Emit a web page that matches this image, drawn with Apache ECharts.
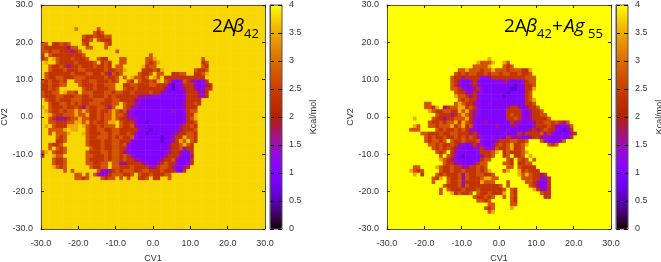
<!DOCTYPE html>
<html><head><meta charset="utf-8">
<style>html,body{margin:0;padding:0;background:#fff}#c{width:661px;height:262px;filter:blur(0.6px)}</style>
<script src="https://cdn.jsdelivr.net/npm/echarts@6/dist/echarts.min.js"></script>
</head><body><div id="c"></div>
<script>
// Free-energy levels; one character per 1x1 CV cell, top row = CV2 +30.
// Blocks of ten columns, rows shorter than 60 continue with background.
const levelKey = {a:0.6,b:1.0,c:1.3,d:1.6,e:2.0,f:2.35,g:2.75,h:3.1,i:3.5};
const backgroundLeft = 3.77, backgroundRight = 4;
const rowsLeft = [
"","","","","","",
".........h .....g",
".......... ....gfg",
".......... .gffgffgg",
".......... .ffg.gfff",
"gg.ffgfg.. .gf....gf",
"gffffffdgg ..gg...g",
"ggfggfffdf g......... g",
"f.gfffffff fg........ .........g",
"fg.igfffgf ffg..gff.. .gg.....gg i......... ...g",
".i..gffffg ffffg.fgf. .gg.....gf gi........ ...fg",
"..gffgfdff gfffgffgf. gg.....ifg g......... ...gf",
"..gfffgfff ggfffffgff ggi....fff gfi....... .gffg",
".gffffffgf ffggffgfdg fg....gffg .gg..ffgg. .ffgi",
".gffggfffg ggfffffgff g.g.iggfg. ig.fffffff ffff",
"gfgffgf..g gffggfffgf g..gf.gffg fi.gfbbcgf ddbcf",
"ffgffgg... gfffgffggg ..ffggfffg gfffbabcff fcbcdf",
"ffgfg..... .gffgfffgg ..gffgffff fffdbabcdf fdbcff",
"gffgg.iggf .gggfffggf ggffgffffg ffdcbbbbdf ffdcf",
"gfffggfffg gffgfffgfg ffffffdddc ccbbbbbbcf ffddf",
".gffgfffgg gfffgggffg gffffdcbbb bbbbbbbbcf fff",
"..gffggfgf gffgggfffg g.gffdcbbb bbbbbbbbdf fgf",
"i.gfffgffg fdgffggfdg ..gfdcbbbb bbbbbbbbdf ff",
".igffgfggi gigffgffgi gfgdcbbbbb bbbbbdbbcf gg",
"..igffgggi ggiffgfggi ggfdcbbbbb bbbbbbbbcf fi",
"..gfdddfgg iggffgfggi gffddcbbbb bbbbbbbbcf gi",
"..ggfffggi igifgffgii .gfffcbbab bbbbbbbbcf fg",
".i.gfffiii .igffgfggg .gffgdbbbb bbbbbbbdff gf",
"..ggggi.ii ..gffggffg gfffffcbba bbbbbbcdff fg",
"..g.gggi.. .igfffggfg gffgfcbbab bbbbbbdffg gf",
"....gfg... ..gffgggfg fgffgcbbbb bbabbdffig gf",
"....ffg... ..gfffgffg gfffcbbbbb bbabbdfig. gf",
"..gffg.... ..gfffgffg gfgcbbbbbb bbbbdffgig f",
"..g.gfg... ...gffgffg gffcbbbbbb bbbbdffgdf f",
"gi.gffg... ..gfffggfg gfdcbbbbbb bbbcdffdbb f",
"f..igg.... ..ggfffgfg gfgfcbbbbb bbbdfffcbb d",
"...gffg... ..gffffgfg gfgffdcbbb bbdffgcbbb f",
"...gffg... ..ggffgg.g gddffffdcb bdfgffdbbc f",
"...igfg... ...gffgg.g gfffgffffd dfggfdbbdf",
"......g.g. .....gdbdf gfgggffggf ffgfffcbf",
".........g g.g.gdbdfg ggffg.gffg fffgg",
".........g gfg...gfgg .g.g..ffg. ff..g",
"","","","","","","","","","","","",""
];
const rowsRight = [
"","","","","","","","","","","","","","",
".......... .......... .......i",
".......... .......... ....igggi. .ig",
".......... .......... ...ggggi.. .gfg",
".......... .........g gigggfggig ggfgggffi",
".......... ........gf gfggffgfgg fggffgffg",
".......... .......gff dffffccdff fffffffggg",
".......... .......gfd bbcfdbbbbc cddbbbdfgg",
".......... .......gfc bbdfcbbbbb bbbbabbffg",
".......... .......ggf cbbdfcbbbb bbbaabbffi",
".......... ........gf fdcfccbbbb bbabbbbfg",
".......... ........ig gfdfdbbbbb babbbbbfg",
".......... .........g fgffcbbbbb bbbbbbbfgi",
".......... gg......gi gffdcbbcbb bbbbbbbffg",
".......... ggfi.dfggi ifgfcbbbbb bbdffdbdff g",
".......... .igffggffi gifdcbbbbb bbffffcbdf fg",
".......... ...gfffdfg igfdcbbbbb bbfgffcbdf fgg",
".......i.. ..gffdffgg gifdbbbbbb bbffgfccdf fffg",
".......... .gffgfggif igfcbbdbbb bbbfddbbcd ffggfgfdg",
".......ig. .ggfgggifg ifgcbbbbbd bbbddbbbbd fffgfdbbdg",
"......ggg. ...gfgffgf gfdcbbbbbb bbcbbbbbdf dfgffcbabf",
".........g gfffgffggf ffdfdbbbbb bcbbbfdfff fgdfcbbbbd f",
".......... gfgffgffgf gfgfdcbbcb cbfdddbcdf fdccbbbbbf",
".......... gfggfg.gff gfffgcbbbd fffggffg.. .gdbbbdg",
".......... .ggfgffgfd cbcfdcbbcf gfgiffgi.. ...gfg",
".......... ..gfgfgfdc bbbcdfccdg ffgiffg...",
".......... ...gfg.fdb bbbbcfffgi .fgfffgi..",
".......... ....g.gfcb abbbbdffg. .fg.ffg.i",
".......... ....igfdcb bbbbbfgg.. ..gf.gfg.g",
".......... .....gffdc bbbcfgg... .ggf.ffgg.",
".......gg. ...igffgff ddffgfg... ..gg.gffff",
"......igfg ....gffgff gfffgfgi.. .gi..ifgff f",
".......i.f ...gfgfffg dgffggffg. .....igigf fdf",
".......... ..gfi.gffg dgfffgiigg ......gggf fdcf",
".......... ..g...gffg dffffiggg. ..g....ggf dbbf",
".......... .....gfffg dgffffffff g.g.....gf dbcf",
".......... ....g.gfff gfffgfffff fg.gf....i fdcf",
".......... ....g..ifg ffg.gffgff fi.gf..... .gff",
".......... .......... ...gffgfg. .g.gf..... ..ff",
".......... .......... ....ggfg.. ...gf.....",
".......... .......... .......gg. ...gg",
".......... .......... ......gfg. ...i",
".......... .......... .......gi",
"","","",""
];
const labelsLeft = [["A1",5.1,9.1],["A2",4.8,3.7],["A3",-0.5,-1.3],["A4",6.7,-12.6]];
const labelsRight = [["B5",3.75,8.8],["B4",0.5,6.2],["B3",-2.1,0.5],["B1",-4.8,-1.3],["B2",14.2,-5.1]];
const cvCategories = Array.from({length:60},(_,i)=>i);

function cells(rows,bg){
  const out=[];
  rows.forEach((raw,r)=>{
    const s=raw.replace(/ /g,'').padEnd(60,'.');
    for(let c=0;c<60;c++){
      const v=levelKey[s[c]];
      out.push([c,59-r,v===undefined?bg:v]);
    }
  });
  return out;
}
// gnuplot default pm3d palette (rgbformulae 7,5,15)
const palette=[];
for(let i=0;i<=64;i++){
  const x=i/64;
  const r=Math.sqrt(x),g=x*x*x,b=Math.max(0,Math.sin(2*Math.PI*x));
  palette.push('rgb('+Math.round(r*255)+','+Math.round(g*255)+','+Math.round(b*255)+')');
}
const FONT='"Liberation Sans",Arial,sans-serif';
const TXT='#333', FRAME='#555', FS=9;
const plotW=224, plotH=224, plotTop=5;
const panels=[{left:41,cb:270,rows:rowsLeft,bg:backgroundLeft,labels:labelsLeft},
              {left:387,cb:616,rows:rowsRight,bg:backgroundRight,labels:labelsRight}];
const grid=[],xAxis=[],yAxis=[],series=[],visualMap=[];
const fmt=v=>v.toFixed(1);
panels.forEach((p,k)=>{
  const g=grid.length;
  grid.push({left:p.left,top:plotTop,width:plotW,height:plotH,containLabel:false,outerBoundsMode:'none'});
  const xBase=xAxis.length,yBase=yAxis.length;
  xAxis.push({gridIndex:g,type:'category',data:cvCategories,show:false});
  yAxis.push({gridIndex:g,type:'category',data:cvCategories,show:false});
  const tick={show:true,inside:true,length:3,lineStyle:{color:'#222',width:1}};
  const line={show:true,onZero:false,lineStyle:{color:FRAME,width:1}};
  xAxis.push({gridIndex:g,type:'value',min:-30,max:30,interval:10,position:'bottom',z:5,
    axisLine:line,axisTick:tick,splitLine:{show:false},
    axisLabel:{color:TXT,fontFamily:FONT,fontSize:FS,margin:10,formatter:fmt},
    name:'CV1',nameLocation:'middle',nameGap:25,nameTextStyle:{color:TXT,fontFamily:FONT,fontSize:FS}});
  xAxis.push({gridIndex:g,type:'value',min:-30,max:30,interval:10,position:'top',z:5,
    axisLine:line,axisTick:tick,splitLine:{show:false},axisLabel:{show:false}});
  yAxis.push({gridIndex:g,type:'value',min:-30,max:30,interval:10,position:'left',z:5,
    axisLine:line,axisTick:tick,splitLine:{show:false},
    axisLabel:{color:TXT,fontFamily:FONT,fontSize:FS,margin:8,formatter:fmt},
    name:'CV2',nameLocation:'middle',nameGap:31,nameTextStyle:{color:TXT,fontFamily:FONT,fontSize:FS}});
  yAxis.push({gridIndex:g,type:'value',min:-30,max:30,interval:10,position:'right',z:5,
    axisLine:line,axisTick:tick,splitLine:{show:false},axisLabel:{show:false}});
  const si=series.length;
  series.push({type:'heatmap',xAxisIndex:xBase,yAxisIndex:yBase,data:cells(p.rows,p.bg),
    progressive:0,animation:false,emphasis:{disabled:true},silent:true});
  series.push({type:'scatter',xAxisIndex:xBase+1,yAxisIndex:yBase+1,symbolSize:1,z:8,silent:true,
    itemStyle:{opacity:0},
    data:p.labels.map(l=>({name:l[0],value:[l[1],l[2]]})),
    label:{show:true,position:'inside',formatter:'{b}',color:'#fff',fontFamily:FONT,fontSize:9.5}});
  visualMap.push({type:'continuous',seriesIndex:si,dimension:2,min:0,max:4,show:true,calculable:false,
    showLabel:false,left:p.cb,top:plotTop,itemWidth:12,itemHeight:plotH,padding:0,text:null,
    inRange:{color:palette},realtime:false});
});
panels.forEach((p,k)=>{
  const g=grid.length;
  grid.push({left:p.cb,top:plotTop,width:12,height:plotH,show:true,borderColor:FRAME,borderWidth:1,backgroundColor:'transparent',z:6,outerBoundsMode:'none'});
  xAxis.push({gridIndex:g,type:'value',min:0,max:1,show:false});
  yAxis.push({gridIndex:g,type:'value',min:0,max:4,interval:0.5,position:'right',z:6,
    axisLine:{show:true,lineStyle:{color:FRAME}},axisTick:{show:false},
    splitLine:{show:true,lineStyle:{color:'#000',type:[4,4],width:1}},
    axisLabel:{color:TXT,fontFamily:FONT,fontSize:FS,margin:7},
    name:'Kcal/mol',nameLocation:'middle',nameGap:27,nameRotate:90,
    nameTextStyle:{color:TXT,fontFamily:FONT,fontSize:FS}});
});
const tf='"Open Sans","Noto Sans",sans-serif';
const T=(text,x,y,size,italic)=>({type:'text',x:x,y:y,z:20,silent:true,
  style:{text:text,fill:'#000',font:(italic?'italic ':'')+size+'px '+tf,textVerticalAlign:'bottom'}});
const graphic=[
  T('2A',212,36,19),T('\u03B2',233,36,19,true),T('42',244,41,13),
  T('2A',504,36,19),T('\u03B2',526,36,19,true),T('42',537,41,13),
  T('+',552,36,19),T('Ag',564,36,19,true),T('55',588,41,13)
];
const chart=echarts.init(document.getElementById('c'),null,{renderer:'canvas'});
chart.setOption({animation:false,backgroundColor:'#fff',tooltip:{show:false},
  grid,xAxis,yAxis,series,visualMap,graphic});
</script></body></html>
